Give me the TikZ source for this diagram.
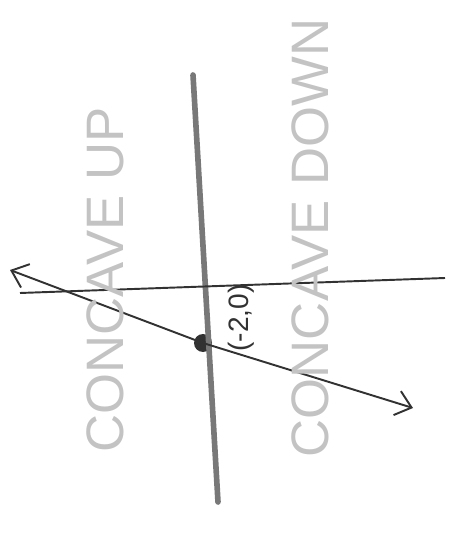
\documentclass[tikz,border=0pt]{standalone}
\usepackage{fontspec}
\setmainfont{Liberation Sans}
\usetikzlibrary{arrows.meta}
\definecolor{skink}{RGB}{50,50,50}
\definecolor{skpencil}{RGB}{120,120,120}
\definecolor{sklabel}{RGB}{195,195,195}
\tikzset{
  skaxis/.style={draw=skink, line width=1.1pt},
  skinfl/.style={draw=skpencil, line width=3.2pt, line cap=round},
  sktan/.style={{Straight Barb[length=3mm,width=5mm]}-{Straight Barb[length=3mm,width=5mm]}, draw=skink, line width=1.1pt},
  skdot/.style={circle, fill=skink, inner sep=0pt, minimum size=3.6mm},
  sktext/.style={text=sklabel, rotate=90, inner sep=0pt, font=\fontsize{30}{34}\selectfont},
  skpoint/.style={text=skink, rotate=90, inner sep=0pt, font=\fontsize{16}{18}\selectfont}
}

\begin{document}
\begin{tikzpicture}[x=0.02cm, y=-0.02cm]
  \useasboundingbox (0,0) rectangle (450,540);
  % end points of the sketch lines
  \coordinate (inftop) at (193,75);
  \coordinate (infbot) at (218,502);
  \coordinate (axl) at (20,293);
  \coordinate (axr) at (445,278);
  \coordinate (tanl) at (10,270);
  \coordinate (tanr) at (413,408);
  \node[skdot] (infpt) at (203,343) {};
  % lines
  \draw[skinfl] (inftop) -- (infbot);
  \draw[skaxis] (axl) -- (axr);
  \draw[sktan] (tanl) -- (infpt.center) -- (tanr);
  % labels
  \node[skpoint] (ptlabel) at (241,318) {(-2,0)};
  \node[sktext] (uplabel) at (105,280) {CONCAVE UP};
  \node[sktext] (downlabel) at (310,238) {CONCAVE DOWN};
\end{tikzpicture}
\end{document}
